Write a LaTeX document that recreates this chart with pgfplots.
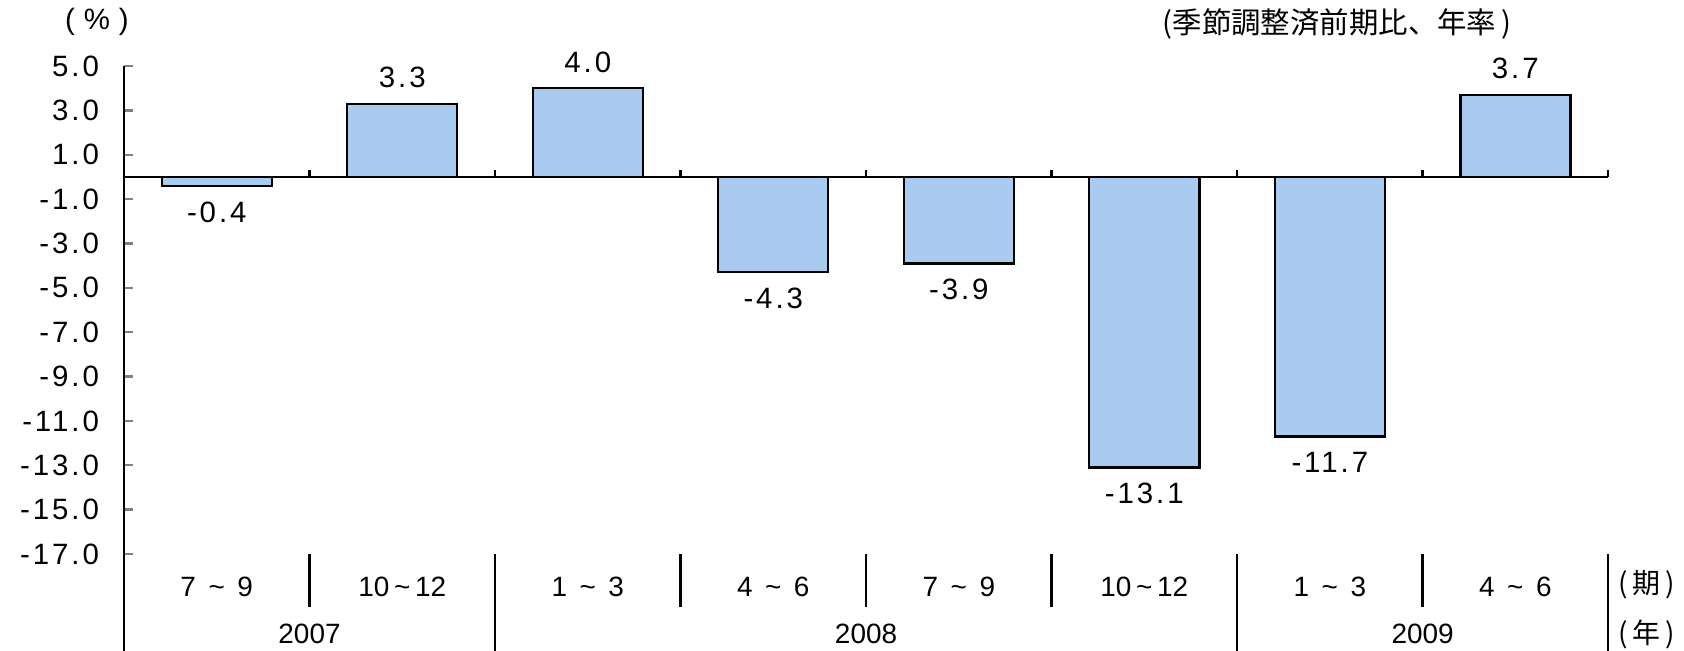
\documentclass[border=0pt]{standalone}
\usepackage{fontspec}
\setmainfont{Liberation Sans}
\newfontfamily\cjk{Noto Sans CJK JP}
\newfontfamily\numfont{Liberation Sans}[LetterSpace=10]
\usepackage{pgfplots}
\pgfplotsset{compat=1.18}
\definecolor{barblue}{HTML}{A8CBEF}
\newcommand{\tl}{\hspace{0.45em}\textasciitilde\hspace{0.45em}}
\begin{document}
\begin{tikzpicture}
\begin{axis}[
    name=ax,
    scale only axis,
    width=504.6pt, height=165.9pt,
    xmin=-0.5, xmax=7.5, ymin=-17, ymax=5,
    clip=false,
    axis y line*=left,
    axis x line*=bottom,
    x axis line style={draw=none},
    y axis line style={line width=0.8pt},
    ytick={-17,-15,...,5},
    ytick align=inside,
    ytick style={line width=0.8pt},
    major tick length=3pt,
    xtick={0,...,7},
    xticklabels={7\tl 9, 10\,\textasciitilde\,12, 1\tl 3, 4\tl 6,
                 7\tl 9, 10\,\textasciitilde\,12, 1\tl 3, 4\tl 6},
    xtick style={draw=none},
    xticklabel style={anchor=center, yshift=-11.2pt, font=\fontsize{9.5}{11}\selectfont},
    yticklabel style={font=\numfont\fontsize{10}{12}\selectfont, xshift=-5pt},
    /pgf/number format/fixed,
    /pgf/number format/fixed zerofill,
    /pgf/number format/precision=1,
    /pgf/number format/assume math mode=true,
]

\addplot[ybar, bar width=37.4pt, fill=barblue, draw=black, line width=0.8pt,
    nodes near coords,
    nodes near coords style={font=\numfont\fontsize{10}{12}\selectfont, inner sep=5pt, text=black}]
    coordinates {(0,-0.4) (1,3.3) (2,4.0) (3,-4.3) (4,-3.9) (5,-13.1) (6,-11.7) (7,3.7)};

% zero line and its ticks
\draw[line width=0.8pt] (axis cs:-0.5,0) -- (axis cs:7.5,0);
\pgfplotsinvokeforeach{0.5,1.5,2.5,3.5,4.5,5.5,6.5,7.5}{
  \draw[line width=0.8pt] (axis cs:#1,0) -- ++(0pt,2.4pt);
}
% separators below the plot
\pgfplotsinvokeforeach{0.5,2.5,3.5,4.5,6.5}{
  \draw[line width=0.8pt] (axis cs:#1,-17) -- ++(0pt,-18pt);
}
\pgfplotsinvokeforeach{-0.5,1.5,5.5,7.5}{
  \draw[line width=0.8pt] (axis cs:#1,-17) -- ++(0pt,-33pt);
}

\node[font=\fontsize{9.5}{11}\selectfont] at ([yshift=-27.2pt]axis cs:0.5,-17) {2007};
\node[font=\fontsize{9.5}{11}\selectfont] at ([yshift=-27.2pt]axis cs:3.5,-17) {2008};
\node[font=\fontsize{9.5}{11}\selectfont] at ([yshift=-27.2pt]axis cs:6.5,-17) {2009};

\node[font=\cjk\fontsize{9.5}{11}\selectfont, anchor=west] at ([yshift=-10.5pt]axis cs:7.5,-17) {(\,期\,)};
\node[font=\cjk\fontsize{9.5}{11}\selectfont, anchor=west] at ([yshift=-27.2pt]axis cs:7.5,-17) {(\,年\,)};

\node[font=\fontsize{10}{12}\selectfont] at ([shift={(-9.2pt,181pt)}]rel axis cs:0,0) {(\hspace{0.3em}\%\hspace{0.3em})};
\node[font=\cjk\fontsize{10}{12}\selectfont] at ([shift={(412.4pt,180.2pt)}]rel axis cs:0,0) {(季節調整済前期比、年率\,)};
\end{axis}
\pgfresetboundingbox
\useasboundingbox ([shift={(-42.16pt,-32.98pt)}]ax.south west) rectangle ([shift={(530.4pt,188.36pt)}]ax.south west);
\end{tikzpicture}
\end{document}
